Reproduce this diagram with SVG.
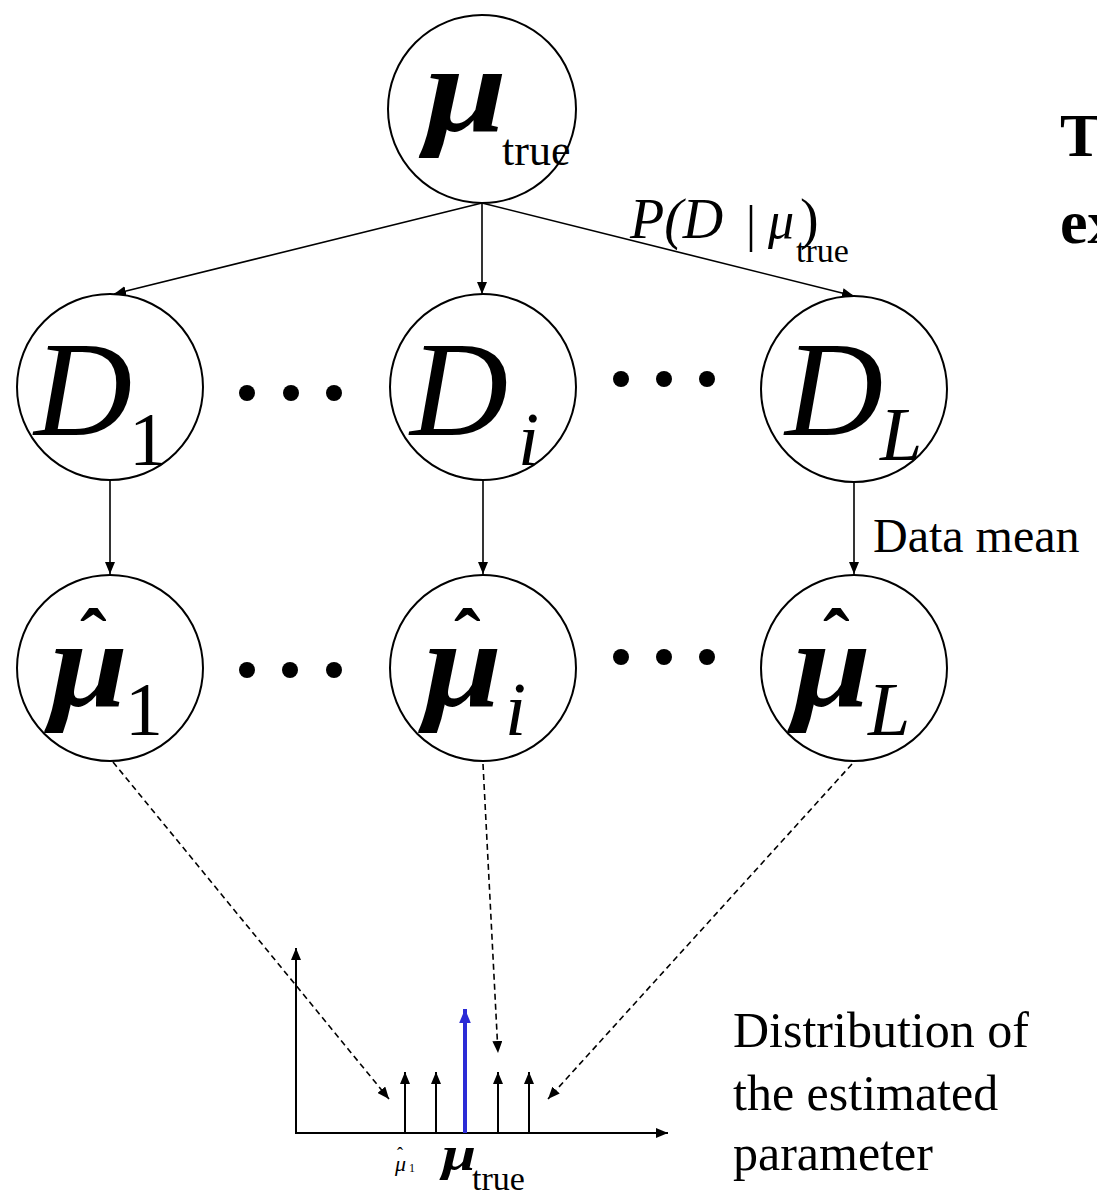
<svg xmlns="http://www.w3.org/2000/svg" width="1097" height="1197" viewBox="0 0 1097 1197">
<defs>
<style>
.node{fill:#fff;stroke:#000;stroke-width:2}
.serif{font-family:"Liberation Serif","Times New Roman",serif;fill:#000}
.it{font-style:italic}
.bi{font-style:italic;font-weight:bold}
.b{font-weight:bold}
.edge{stroke:#000;stroke-width:1.6;fill:none}
.dash{stroke:#000;stroke-width:1.6;fill:none;stroke-dasharray:6 4}
.axis{stroke:#000;stroke-width:2;fill:none}
.dot{fill:#000}
</style>
<marker id="ah" viewBox="0 0 12 10" refX="12" refY="5" markerWidth="12" markerHeight="10" markerUnits="userSpaceOnUse" orient="auto">
<path d="M0,0 L12,5 L0,10 Z" fill="#000"/>
</marker>
<marker id="ahb" viewBox="0 0 12 10" refX="12" refY="5" markerWidth="14" markerHeight="12" markerUnits="userSpaceOnUse" orient="auto">
<path d="M0,0 L12,5 L0,10 Z" fill="#2b2bd6"/>
</marker>
</defs>
<rect width="1097" height="1197" fill="#fff"/>

<g id="connectors">
<line class="edge" x1="482" y1="203" x2="114" y2="294" marker-end="url(#ah)"/>
<line class="edge" x1="482" y1="203" x2="482" y2="294" marker-end="url(#ah)"/>
<line class="edge" x1="482" y1="203" x2="854" y2="296" marker-end="url(#ah)"/>
<line class="edge" x1="110" y1="480" x2="110" y2="574" marker-end="url(#ah)"/>
<line class="edge" x1="483" y1="480" x2="483" y2="574" marker-end="url(#ah)"/>
<line class="edge" x1="854" y1="482" x2="854" y2="574" marker-end="url(#ah)"/>
<line class="dash" x1="113" y1="762" x2="389" y2="1099" marker-end="url(#ah)"/>
<line class="dash" x1="483" y1="764" x2="498" y2="1053" marker-end="url(#ah)"/>
<line class="dash" x1="852" y1="764" x2="548" y2="1099" marker-end="url(#ah)"/>
<text class="serif it" x="630" y="238" font-size="56">P(D</text>
<line x1="751" y1="205" x2="751" y2="252" stroke="#000" stroke-width="2.5"/>
<text class="serif it" x="768" y="238" font-size="52">μ</text>
<text class="serif" x="800" y="238" font-size="56">)</text>
<text class="serif" x="796" y="262" font-size="34">true</text>
<text class="serif" x="873" y="552" font-size="48">Data mean</text>
</g>

<g id="node-mu-true">
<circle class="node" cx="482" cy="109" r="94"/>
<text class="serif bi" x="425" y="131" font-size="125" textLength="82" lengthAdjust="spacingAndGlyphs">μ</text>
<text class="serif" x="502" y="165" font-size="44">true</text>
</g>

<g id="node-D1">
<circle class="node" cx="110" cy="387" r="93"/>
<text class="serif it" x="34" y="435" font-size="136">D</text>
<text class="serif" x="129" y="465" font-size="76">1</text>
</g>
<g id="dots-D-left">
<circle class="dot" cx="247" cy="393" r="8"/>
<circle class="dot" cx="291" cy="393" r="8"/>
<circle class="dot" cx="334" cy="393" r="8"/>
</g>
<g id="node-Di">
<circle class="node" cx="483" cy="387" r="93"/>
<text class="serif it" x="410" y="435" font-size="136">D</text>
<text class="serif it" x="518" y="465" font-size="76">i</text>
</g>
<g id="dots-D-right">
<circle class="dot" cx="621" cy="379" r="8"/>
<circle class="dot" cx="664" cy="379" r="8"/>
<circle class="dot" cx="707" cy="379" r="8"/>
</g>
<g id="node-DL">
<circle class="node" cx="854" cy="389" r="93"/>
<text class="serif it" x="785" y="435" font-size="136">D</text>
<text class="serif it" x="880" y="460" font-size="76">L</text>
</g>

<g id="node-muhat1">
<circle class="node" cx="110" cy="668" r="93"/>
<text class="serif bi" x="50" y="706" font-size="125" textLength="78" lengthAdjust="spacingAndGlyphs">μ</text>
<text class="serif b" x="80" y="665" font-size="80">ˆ</text>
<text class="serif" x="125" y="735" font-size="76">1</text>
</g>
<g id="dots-mu-left">
<circle class="dot" cx="247" cy="670" r="8"/>
<circle class="dot" cx="290" cy="670" r="8"/>
<circle class="dot" cx="334" cy="670" r="8"/>
</g>
<g id="node-muhati">
<circle class="node" cx="483" cy="668" r="93"/>
<text class="serif bi" x="424" y="706" font-size="125" textLength="78" lengthAdjust="spacingAndGlyphs">μ</text>
<text class="serif b" x="454" y="665" font-size="80">ˆ</text>
<text class="serif it" x="505" y="735" font-size="76">i</text>
</g>
<g id="dots-mu-right">
<circle class="dot" cx="621" cy="657" r="8"/>
<circle class="dot" cx="664" cy="657" r="8"/>
<circle class="dot" cx="707" cy="657" r="8"/>
</g>
<g id="node-muhatL">
<circle class="node" cx="854" cy="668" r="93"/>
<text class="serif bi" x="793" y="706" font-size="125" textLength="78" lengthAdjust="spacingAndGlyphs">μ</text>
<text class="serif b" x="823" y="665" font-size="80">ˆ</text>
<text class="serif it" x="868" y="735" font-size="76">L</text>
</g>

<g id="chart">
<line class="axis" x1="296" y1="1134" x2="296" y2="948" marker-end="url(#ah)"/>
<line class="axis" x1="295" y1="1133" x2="668" y2="1133" marker-end="url(#ah)"/>
<line class="axis" x1="405" y1="1133" x2="405" y2="1072" marker-end="url(#ah)"/>
<line class="axis" x1="436" y1="1133" x2="436" y2="1072" marker-end="url(#ah)"/>
<line class="axis" x1="498" y1="1133" x2="498" y2="1072" marker-end="url(#ah)"/>
<line class="axis" x1="529" y1="1133" x2="529" y2="1072" marker-end="url(#ah)"/>
<line x1="465" y1="1133" x2="465" y2="1009" stroke="#2b2bd6" stroke-width="4" marker-end="url(#ahb)"/>
<text class="serif it" x="395" y="1171" font-size="22">μ</text>
<text class="serif" x="397" y="1160" font-size="18">ˆ</text>
<text class="serif" x="409" y="1172" font-size="12">1</text>
<text class="serif bi" x="442" y="1170" font-size="48" textLength="34" lengthAdjust="spacingAndGlyphs">μ</text>
<text class="serif" x="472" y="1190" font-size="34">true</text>
</g>

<g id="caption">
<text class="serif" x="733" y="1047" font-size="50">Distribution of</text>
<text class="serif" x="733" y="1110" font-size="50">the estimated</text>
<text class="serif" x="733" y="1170" font-size="50">parameter</text>
</g>

<g id="title-fragment">
<text class="serif b" x="1060" y="156" font-size="62">T</text>
<text class="serif b" x="1060" y="243" font-size="62">ex</text>
</g>
</svg>
